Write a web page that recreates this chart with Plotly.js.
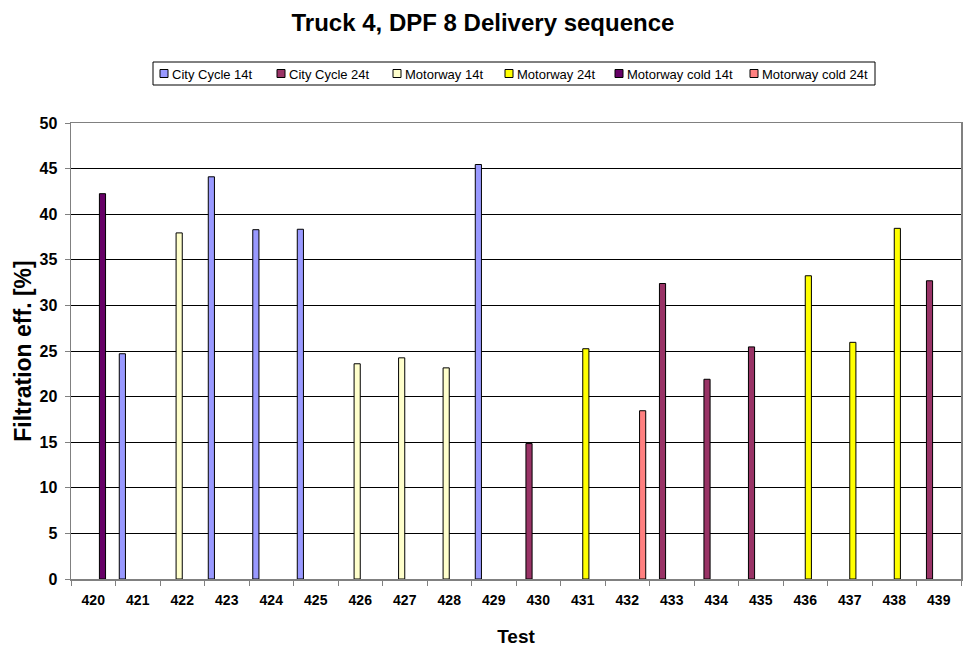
<!DOCTYPE html>
<html>
<head>
<meta charset="utf-8">
<script src="https://cdn.plot.ly/plotly-3.0.1.min.js"></script>
<style>
html,body{margin:0;padding:0;background:#fff;}
#chart{width:964px;height:650px;}
</style>
</head>
<body>
<div id="chart"></div>
<script>
// Test numbers (categories)
var tests = ["420","421","422","423","424","425","426","427","428","429",
             "430","431","432","433","434","435","436","437","438","439"];

// Series values (null = no test of that type)
var cityCycle14t     = [null,24.7,null,44.1,38.3,38.35,null,null,null,45.45,
                        null,null,null,null,null,null,null,null,null,null];
var cityCycle24t     = [null,null,null,null,null,null,null,null,null,null,
                        14.85,null,null,32.4,21.9,25.45,null,null,null,32.7];
var motorway14t      = [null,null,37.95,null,null,null,23.6,24.25,23.15,null,
                        null,null,null,null,null,null,null,null,null,null];
var motorway24t      = [null,null,null,null,null,null,null,null,null,null,
                        null,25.25,null,null,null,null,33.25,25.95,38.45,null];
var motorwayCold14t  = [42.25,null,null,null,null,null,null,null,null,null,
                        null,null,null,null,null,null,null,null,null,null];
var motorwayCold24t  = [null,null,null,null,null,null,null,null,null,null,
                        null,null,18.45,null,null,null,null,null,null,null];

var seriesNames  = ["City Cycle 14t","City Cycle 24t","Motorway 14t","Motorway 24t","Motorway cold 14t","Motorway cold 24t"];
var seriesValues = [cityCycle14t, cityCycle24t, motorway14t, motorway24t, motorwayCold14t, motorwayCold24t];
var seriesColors = ["#9999FF","#993366","#FFFFCC","#FFFF00","#660066","#FF8080"];

var yTicks = [0,5,10,15,20,25,30,35,40,45,50];

var FONT = 'Arial,"Liberation Sans",sans-serif';

// plot-area geometry (pixels) used to place the hand-built legend
var W = 964, H = 650;
var M = {l: 71, r: 3, t: 123, b: 71};
var PW = W - M.l - M.r, PH = H - M.t - M.b;
function px(x){ return (x - M.l) / PW; }
function py(y){ return (H - M.b - y) / PH; }

var traces = seriesNames.map(function(name, i){
  return {
    type: 'bar',
    name: name,
    x: tests,
    y: seriesValues[i],
    marker: {color: seriesColors[i], line: {color: '#000000', width: 1}},
    hoverinfo: 'x+y+name'
  };
});

// legend (box, swatches, labels)
var legendLeft = [160, 277, 393, 505, 615, 750];
var legendTop = 62, legendBottom = 85, legendMid = 73.5, sw = 8;
var shapes = [{
  type: 'rect', xref: 'paper', yref: 'paper', layer: 'above',
  x0: px(153), x1: px(875), y0: py(legendBottom), y1: py(legendTop),
  line: {color: '#000000', width: 1}, fillcolor: '#ffffff'
}];
var annotations = [];
seriesNames.forEach(function(name, i){
  var L = legendLeft[i];
  shapes.push({
    type: 'rect', xref: 'paper', yref: 'paper', layer: 'above',
    x0: px(L), x1: px(L + sw), y0: py(legendMid + sw/2), y1: py(legendMid - sw/2),
    line: {color: '#000000', width: 1}, fillcolor: seriesColors[i]
  });
  annotations.push({
    xref: 'paper', yref: 'paper', x: px(L + sw + 2), y: py(legendMid + 0.5),
    xanchor: 'left', yanchor: 'middle', showarrow: false,
    text: name, font: {family: FONT, size: 13, color: '#000000'}
  });
});

var layout = {
  width: W,
  height: H,
  paper_bgcolor: '#ffffff',
  plot_bgcolor: '#ffffff',
  font: {family: FONT, color: '#000000'},
  margin: {l: M.l, r: M.r, t: M.t, b: M.b, pad: 0},
  barmode: 'group',
  bargap: 0.17,
  bargroupgap: 0,
  showlegend: false,
  title: {
    text: '<b>Truck 4, DPF 8 Delivery sequence</b>',
    font: {family: FONT, size: 24, color: '#000000'},
    xref: 'container', x: 0.501, xanchor: 'center',
    yref: 'container', y: 0.965, yanchor: 'middle'
  },
  shapes: shapes,
  annotations: annotations,
  xaxis: {
    type: 'category',
    tickson: 'boundaries',
    ticks: 'outside',
    ticklen: 5,
    tickcolor: '#808080',
    tickwidth: 1,
    showline: true,
    linecolor: '#808080',
    linewidth: 1.5,
    mirror: true,
    showgrid: false,
    tickfont: {family: FONT, size: 14, color: '#000000', weight: 'bold'},
    ticklabelstandoff: 8,
    title: {text: '<b>Test</b>', font: {family: FONT, size: 19, color: '#000000'}, standoff: 22},
    fixedrange: true
  },
  yaxis: {
    range: [0, 50],
    tickvals: yTicks,
    ticktext: yTicks.map(String),
    ticks: 'outside',
    ticklen: 5,
    tickcolor: '#808080',
    showline: true,
    linecolor: '#808080',
    linewidth: 1.5,
    mirror: true,
    showgrid: true,
    gridcolor: '#000000',
    gridwidth: 1,
    zeroline: false,
    tickfont: {family: FONT, size: 16, color: '#000000', weight: 'bold'},
    ticklabelstandoff: 4,
    title: {text: '<b>Filtration eff. [%]</b>', font: {family: FONT, size: 23, color: '#000000'}, standoff: 1},
    fixedrange: true
  }
};

Plotly.newPlot('chart', traces, layout, {displayModeBar: false, staticPlot: true});
</script>
</body>
</html>
